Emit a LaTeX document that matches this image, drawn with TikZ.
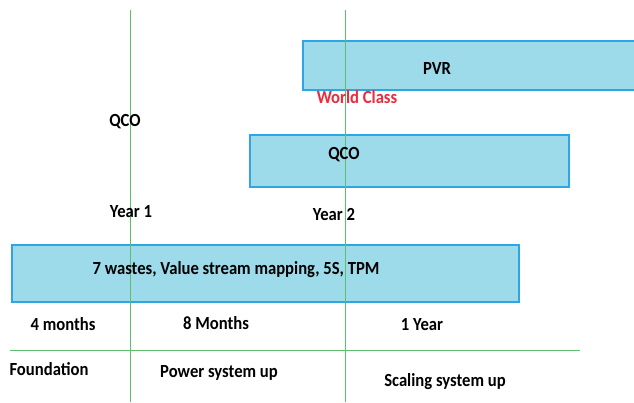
\documentclass[tikz,border=0pt]{standalone}
\usepackage{fontspec}
\setmainfont{Carlito}[FakeStretch=0.9]
\begin{document}
\begin{tikzpicture}[x=1pt,y=-1pt,
  lbl/.style={font=\bfseries\fontsize{18.5}{22}\selectfont, inner sep=0pt, text=black}]
\useasboundingbox (0,0) rectangle (634,402);
\definecolor{barfill}{HTML}{9DDAEA}
\definecolor{barline}{HTML}{2EA6E6}
\definecolor{guidegreen}{HTML}{5CBF6E}
\definecolor{wcred}{HTML}{EE2A3C}
\tikzset{
  bar/.style={draw=barline, fill=barfill, line width=1.1pt},
  guide/.style={draw=guidegreen, line width=0.9pt}}
% bars
\draw[bar] (303,41) rectangle (636,90);
\draw[bar] (250,135) rectangle (569,187);
\draw[bar] (12,245) rectangle (519,302);
% guide lines
\coordinate (v1t) at (130,10); \coordinate (v1b) at (130,402);
\coordinate (v2t) at (345,10); \coordinate (v2b) at (345,402);
\coordinate (hl) at (10,350); \coordinate (hr) at (580,350);
\draw[guide] (v1t) -- (v1b);
\draw[guide] (v2t) -- (v2b);
\draw[guide] (hl) -- (hr);
% labels
\node[lbl] (pvr) at (437,68) {PVR};
\node[lbl, text=wcred] (wc) at (357,97) {World Class};
\node[lbl] (qcoA) at (125,122) {QCO};
\node[lbl] (qcoB) at (344,155) {QCO};
\node[lbl] (y1) at (131,212) {Year 1};
\node[lbl] (y2) at (334,214) {Year 2};
\node[lbl] (w) at (236,270) {7 wastes, Value stream mapping, 5S, TPM};
\node[lbl] (m4) at (63,324) {4 months};
\node[lbl] (m8) at (216,323) {8 Months};
\node[lbl] (y) at (422,325) {1 Year};
\node[lbl] (f) at (49,369) {Foundation};
\node[lbl] (p) at (219,373) {Power system up};
\node[lbl] (s) at (445,382) {Scaling system up};
\end{tikzpicture}
\end{document}
